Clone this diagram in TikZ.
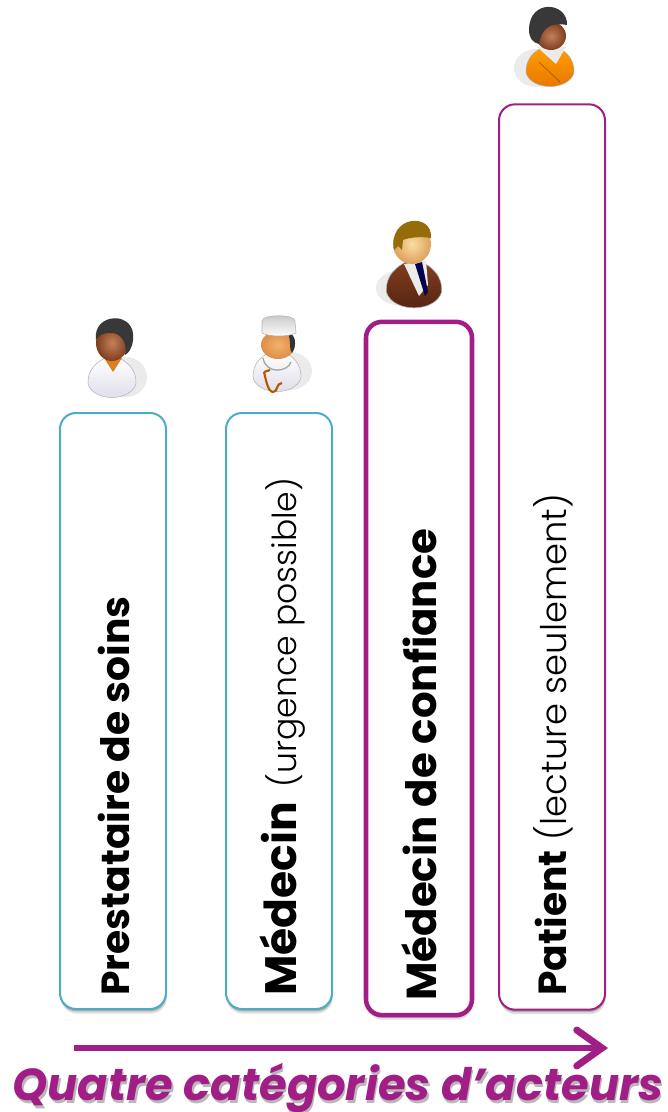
\documentclass[tikz,border=0pt]{standalone}
\usepackage{fontspec}
\setmainfont{Poppins}
\newfontfamily\thinfont{Poppins Light}
\usetikzlibrary{shadows,arrows.meta}
\definecolor{plum}{RGB}{161,30,134}
\definecolor{lagoon}{RGB}{75,172,198}
\definecolor{jacket}{RGB}{128,62,32}
\definecolor{jacketdark}{RGB}{84,34,16}
\definecolor{gold}{RGB}{150,108,8}
\definecolor{coat}{RGB}{222,218,232}
\tikzset{every picture/.style={line width=0.75pt}}
\tikzset{
  actorbox/.style={draw,fill=white,rounded corners=12pt,minimum width=79.5pt,inner sep=0pt,
    general shadow={shadow yshift=-3.4pt,shadow xshift=0.6pt,fill=black,opacity=0.13},
    general shadow={shadow yshift=-1.8pt,shadow xshift=0.3pt,fill=black,opacity=0.22}},
  actorlabel/.style={rotate=90,anchor=base west,inner sep=0pt,font=\fontsize{29.4}{32}\selectfont},
  torso/.style={draw=black!30,line width=0.4pt,
    insert path={(-26,26) .. controls (-27,10) and (-15,4) .. (-8,0) -- (8,0) .. controls (15,4) and (27,10) .. (26,26) .. controls (20,44) and (-20,44) .. (-26,26) -- cycle}},
  floor/.style={fill=black!8,draw=none},
  darkface/.style={inner color={rgb,255:red,196;green,128;blue,90},outer color={rgb,255:red,126;green,62;blue,30}},
  titletext/.style={anchor=base west,inner sep=0pt,font=\bfseries\itshape\fontsize{33.6}{36}\selectfont}
}

\begin{document}
\begin{tikzpicture}[x=0.75pt,y=0.75pt,yscale=-1,xscale=1]
\useasboundingbox (0,0) rectangle (667,1112);

% Boxes
\node [actorbox,draw=lagoon,line width=1.5pt,minimum height=447pt] (boxPrestataire) at (113,711) {};
\node [actorbox,draw=lagoon,line width=1.5pt,minimum height=447pt] (boxMedecin) at (279,711) {};
\node [actorbox,draw=plum,line width=3.4pt,minimum height=520pt] (boxConfiance) at (419,668.5) {};
\node [actorbox,draw=plum,line width=1.5pt,minimum height=679pt] (boxPatient) at (552,557) {};

% Labels
\node [actorlabel] (lblPrestataire) at (129,996) {\bfseries Prestataire de soins};
\node [actorlabel] (lblMedecin) at (296,996) {{\bfseries\fontsize{33}{36}\selectfont Médecin} \hspace{3pt}{\thinfont\fontsize{24.8}{30}\selectfont(urgence possible)}};
\node [actorlabel,font=\fontsize{31.4}{34}\selectfont] (lblConfiance) at (436,1001) {\bfseries Médecin de confiance};
\node [actorlabel] (lblPatient) at (566,996) {{\bfseries Patient} {\thinfont\fontsize{26.5}{30}\selectfont(lecture seulement)}};

% Icon: nurse
\fill [floor] (126,377) ellipse [x radius=21, y radius=20];
\path [shift={(112,358)},xscale=0.92,torso,top color=white,bottom color=coat];
\fill [orange!40!brown] (104,358) -- (122,358) -- (113,372) -- cycle;
\shade [darkface] (112,343) ellipse [x radius=16, y radius=18];
\fill [black!78] (96,340) .. controls (92,312) and (137,310) .. (133,340) .. controls (132,348) and (129,353) .. (125,355) .. controls (128,342) and (120,332) .. (110,333) .. controls (102,333) and (98,336) .. (96,340) -- cycle;

% Icon: doctor
\fill [floor] (290,371) ellipse [x radius=22, y radius=19];
\path [shift={(277,352)},xscale=0.92,torso,top color=white,bottom color=coat];
\shade [inner color={rgb,255:red,240;green,178;blue,110},outer color={rgb,255:red,222;green,142;blue,72}] (278,345) ellipse [x radius=17, y radius=14];
\fill [black!80] (288,333) .. controls (296,334) and (297,345) .. (292,353) .. controls (289,350) and (291,340) .. (288,333) -- cycle;
\draw [black!30,top color=black!22,bottom color=white,line width=0.4pt] (262,321) .. controls (262,314) and (295,314) .. (295,321) -- (296,333) .. controls (288,337) and (270,337) .. (262,333) -- cycle;
\draw [black!35,line width=1pt] (263,358) .. controls (266,375) and (288,372) .. (291,362);
\draw [orange!70!black,line width=1.6pt] (264,372) .. controls (266,380) and (268,392) .. (273,392) .. controls (278,392) and (276,383) .. (282,383);
\draw [orange!70!black,line width=1.6pt] (264,372) -- (270,370);

% Icon: trusted doctor
\fill [floor] (398,288) ellipse [x radius=22, y radius=17];
\path [shift={(414,262)},xscale=1.06,yscale=1.16,torso,top color=jacket,bottom color=jacketdark];
\fill [white!92!black] (404,264) -- (426,260) -- (428,285) -- (419,296) -- cycle;
\fill [black!70!blue] (415,264) -- (422,262) -- (428,292) -- (425,296) -- cycle;
\shade [inner color={rgb,255:red,250;green,222;blue,165},outer color={rgb,255:red,222;green,160;blue,90}] (412,244) ellipse [x radius=19, y radius=20];
\fill [gold] (394,250) .. controls (388,215) and (433,212) .. (431,238) .. controls (420,236) and (407,238) .. (403,240) -- (402,250) -- (398,246) -- cycle;

% Icon: patient
\fill [floor] (536,68) ellipse [x radius=22, y radius=19];
\path [shift={(550,47)},xscale=0.92,torso,top color=orange!75!yellow,bottom color=orange!90!black];
\fill [white!92!black] (537,47) -- (566,47) -- (556,64) -- cycle;
\draw [orange!60!black,line width=0.4pt] (539,62) -- (560,82);
\shade [darkface] (551,36) ellipse [x radius=15, y radius=14];
\fill [black!78] (529,30) .. controls (529,-2) and (568,2) .. (567,25) .. controls (550,22) and (542,28) .. (539,44) .. controls (533,43) and (529,38) .. (529,30) -- cycle;

% Arrow
\coordinate (arrowStart) at (74,1048);
\coordinate (arrowEnd) at (608,1048);
\draw [plum,line width=5.2pt,-{Straight Barb[length=19pt,width=27pt,line cap=round]}] (arrowStart) -- (arrowEnd);

% Title
\node [titletext,text=black!28] (titleShadow) at (13.5,1103) {Quatre catégories d’acteurs};
\node [titletext,text=plum] (title) at (12,1100) {Quatre catégories d’acteurs};

\end{tikzpicture}
\end{document}
